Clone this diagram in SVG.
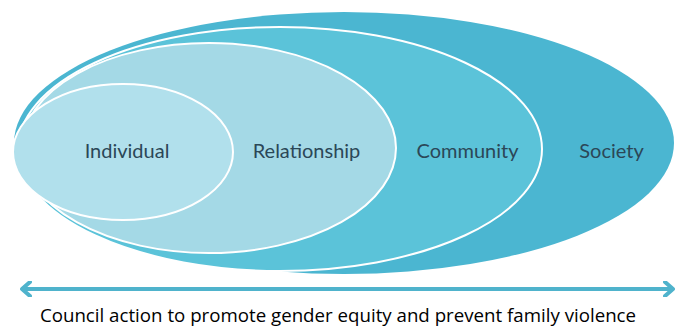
<svg xmlns="http://www.w3.org/2000/svg" width="676" height="328" viewBox="0 0 676 328">
<defs>
<style>
.lbl{font-family:Lato,"Open Sans",sans-serif;font-size:20px;fill:#2b4757;text-anchor:middle}
.ring{stroke:#ffffff;stroke-width:2}
.cap{font-family:"Open Sans","Noto Sans",sans-serif;font-size:18.7px;fill:#000000;text-anchor:middle}
</style>
<marker id="ah" viewBox="0 0 12 16" refX="10" refY="8" markerWidth="12" markerHeight="16" markerUnits="userSpaceOnUse" orient="auto-start-reverse">
<path d="M2,1 L10,8 L2,15" fill="none" stroke="#4fb3cc" stroke-width="4" stroke-linecap="round" stroke-linejoin="round"/>
</marker>
</defs>
<rect width="676" height="328" fill="#ffffff"/>
<g id="society">
<ellipse cx="344" cy="143" rx="330" ry="131" fill="#4bb6d1"/>
<text class="lbl" x="611.5" y="158">Society</text>
</g>
<g id="community">
<ellipse class="ring" cx="280" cy="149" rx="262" ry="122" fill="#5bc3d9"/>
<text class="lbl" x="467.5" y="158">Community</text>
</g>
<g id="relationship">
<ellipse class="ring" cx="209" cy="148" rx="187" ry="105" fill="#a4d9e6"/>
<text class="lbl" x="306.5" y="158">Relationship</text>
</g>
<g id="individual">
<ellipse class="ring" cx="123" cy="152" rx="110" ry="68" fill="#b1e0ec"/>
<text class="lbl" x="127" y="158">Individual</text>
</g>
<g id="connectors">
<line x1="22" y1="289" x2="673" y2="289" stroke="#4fb3cc" stroke-width="4" marker-start="url(#ah)" marker-end="url(#ah)"/>
</g>
<text class="cap" x="338" y="322">Council action to promote gender equity and prevent family violence</text>
</svg>
